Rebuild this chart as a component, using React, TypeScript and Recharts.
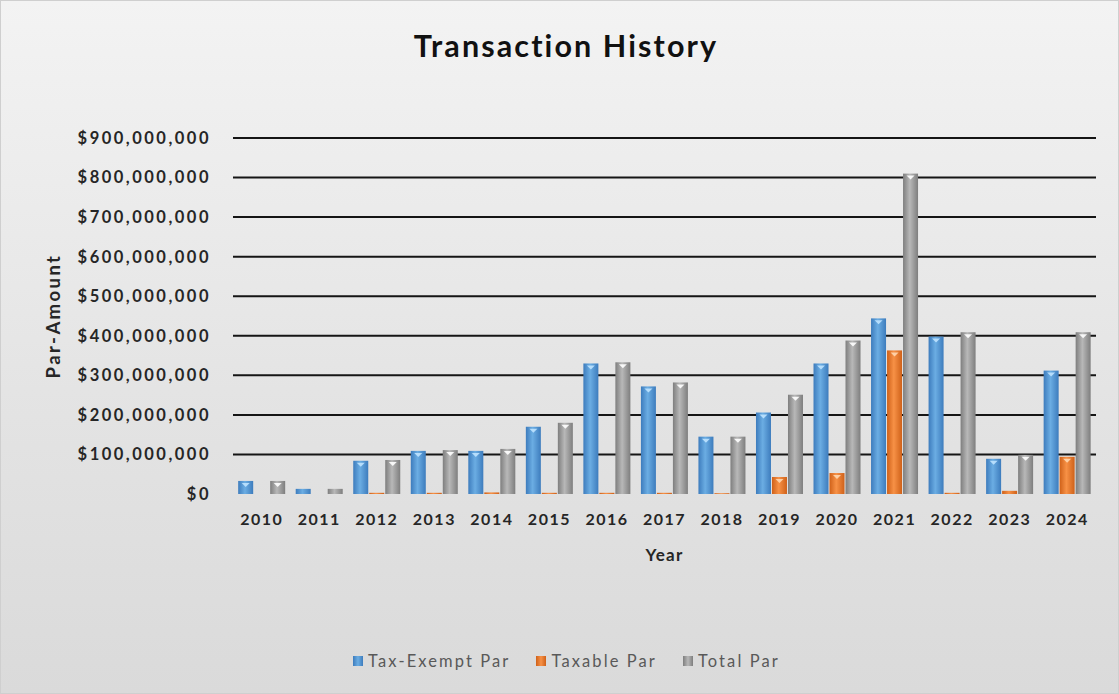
import React from 'react';
import { BarChart, Bar, XAxis, YAxis, CartesianGrid, Legend } from 'recharts';

// values in millions of dollars
const years = ['2010', '2011', '2012', '2013', '2014', '2015', '2016', '2017', '2018', '2019', '2020', '2021', '2022', '2023', '2024'];
const taxExemptPar = [33, 13, 84, 109, 109, 170, 330, 272, 145, 206, 330, 444, 398, 89, 312];
const taxablePar = [0, 0, 3, 3, 4, 3, 3, 3, 2, 43, 53, 363, 3, 8, 94];
const totalPar = [33, 13, 86, 111, 114, 180, 333, 282, 145, 251, 388, 810, 409, 99, 409];
const yTicks = [0, 100, 200, 300, 400, 500, 600, 700, 800, 900];

const MILLION = 1000000;

const data = years.map((year, i) => ({
  year,
  taxExempt: taxExemptPar[i] * MILLION,
  taxable: taxablePar[i] * MILLION,
  total: totalPar[i] * MILLION,
}));

const series = [
  { key: 'taxExempt', name: 'Tax-Exempt Par', grad: 'gBlue', edge: '#3d7cbd', mid: '#6badE3', tip: '#bfe3ff' },
  { key: 'taxable', name: 'Taxable Par', grad: 'gOrange', edge: '#cf6119', mid: '#f79146', tip: '#ffd7b0' },
  { key: 'total', name: 'Total Par', grad: 'gGray', edge: '#7e7e7e', mid: '#b8b8b8', tip: '#ffffff' },
];

const FONT = 'Lato, "Open Sans", sans-serif';

const money = (v: number) => '$' + v.toLocaleString('en-US');

const makeShape = (grad: string, tip: string) => (props: any) => {
  const { x, y, width, height } = props;
  if (!height || height <= 0) return null;
  const cx = x + width / 2;
  return (
    <g>
      <rect x={x} y={y} width={width} height={height} fill={`url(#${grad})`} />
      {height > 7 && (
        <polygon points={`${cx - 4},${y + 2} ${cx + 4},${y + 2} ${cx},${y + 6}`} fill={tip} opacity={0.9} />
      )}
    </g>
  );
};

const renderLegend = () => (
  <div style={{ display: 'flex', justifyContent: 'center', gap: 26, height: 20, alignItems: 'center', fontFamily: FONT, fontSize: 16.5, letterSpacing: 2.1, color: '#595959', paddingLeft: 26 }}>
    {series.map((s) => (
      <span key={s.key} style={{ display: 'flex', alignItems: 'center' }}>
        <span style={{ width: 10, height: 10, marginRight: 5, background: `linear-gradient(90deg, ${s.edge}, ${s.mid}, ${s.edge})` }} />
        {s.name}
      </span>
    ))}
  </div>
);

export default function App() {
  return (
    <div style={{ position: 'absolute', left: 0, top: 0, width: 1117, height: 692, border: '1px solid #cfcfcf', background: 'linear-gradient(180deg, #f3f3f3 0%, #e3e3e3 60%, #dadada 100%)', fontFamily: FONT }}>
      <div style={{ position: 'absolute', top: 26, left: 0, width: 1130, textAlign: 'center', fontSize: 30.5, fontWeight: 700, color: '#111', letterSpacing: 2.1 }}>
        Transaction History
      </div>
      <BarChart
        width={1117}
        height={692}
        data={data}
        margin={{ top: 137, right: 22, left: 10, bottom: 22 }}
        barCategoryGap="9%"
        barGap={1}
      >
        <defs>
          {series.map((s) => (
            <linearGradient key={s.grad} id={s.grad} x1="0" y1="0" x2="1" y2="0">
              <stop offset="0%" stopColor={s.edge} />
              <stop offset="45%" stopColor={s.mid} />
              <stop offset="100%" stopColor={s.edge} />
            </linearGradient>
          ))}
        </defs>
        <CartesianGrid
          vertical={false}
          horizontalValues={yTicks.slice(1).map((t) => t * MILLION)}
          stroke="#151515"
          strokeWidth={2}
        />
        <XAxis
          dataKey="year"
          height={157}
          axisLine={false}
          tickLine={false}
          tickSize={0}
          tickMargin={20}
          tick={{ fontSize: 16, fontWeight: 700, fill: '#262626', letterSpacing: 1.5 }}
          label={{ value: 'Year', position: 'insideBottom', offset: 90, style: { fontSize: 17, fontWeight: 700, fill: '#262626', letterSpacing: 1.2 } }}
        />
        <YAxis
          width={222}
          domain={[0, 900 * MILLION]}
          ticks={yTicks.map((t) => t * MILLION)}
          tickFormatter={money}
          axisLine={false}
          tickLine={false}
          tickSize={0}
          tickMargin={22}
          tick={{ fontSize: 16.5, fontWeight: 700, fill: '#262626', letterSpacing: 2.5 }}
          label={{ value: 'Par-Amount', angle: -90, position: 'insideLeft', offset: 42, style: { textAnchor: 'middle', fontSize: 18.5, fontWeight: 700, fill: '#262626', letterSpacing: 2.4 } }}
        />
        <Legend verticalAlign="bottom" content={renderLegend} />
        {series.map((s) => (
          <Bar
            key={s.key}
            dataKey={s.key}
            name={s.name}
            fill={s.mid}
            shape={makeShape(s.grad, s.tip)}
            isAnimationActive={false}
          />
        ))}
      </BarChart>
    </div>
  );
}
